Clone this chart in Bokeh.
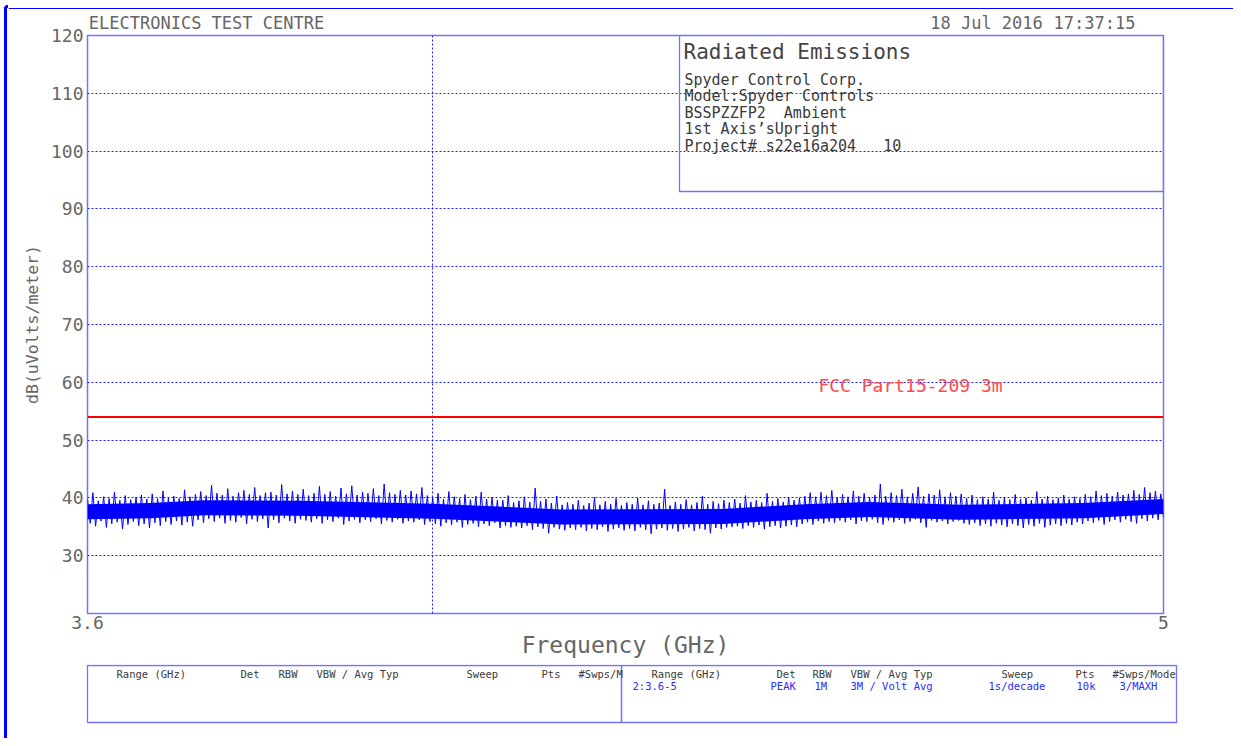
import numpy as np
from bokeh.plotting import figure
from bokeh.layouts import row, column
from bokeh.models import FixedTicker, Label, BoxAnnotation, LinearAxis, Range1d, LinearScale
from bokeh.core.properties import value
from bokeh.embed import file_html
from bokeh.resources import INLINE

# ---------------- data ----------------
freq_start_ghz = 3.6
freq_stop_ghz = 5.0

# max-hold trace: successive local peaks / troughs across the sweep (dBuV/m)
peak_hi = [
    39.8, 40.9, 39.5, 40.2, 39.9, 41.0, 39.6, 40.4, 39.7, 40.1,
    40.5, 39.8, 40.7, 39.9, 41.2, 40.0, 40.3, 39.9, 41.4, 40.2,
    40.6, 41.1, 40.4, 42.2, 40.8, 40.5, 41.6, 40.3, 40.9, 41.3,
    40.6, 41.8, 40.4, 40.9, 41.0, 40.5, 42.3, 40.7, 41.2, 40.6,
    41.5, 40.4, 40.8, 42.0, 40.6, 41.1, 40.3, 41.7, 40.7, 42.1,
    40.5, 41.0, 40.8, 41.6, 40.4, 42.4, 40.9, 40.6, 41.3, 40.5,
    41.2, 40.7, 41.8, 40.4, 40.0, 40.8, 39.8, 41.1, 40.2, 39.9,
    40.6, 39.7, 40.3, 41.0, 39.8, 40.1, 39.6, 39.6, 40.4, 39.2,
    39.5, 40.2, 39.3, 41.7, 39.4, 39.8, 39.1, 40.3, 38.8, 39.2,
    38.9, 39.6, 38.7, 39.1, 40.1, 38.8, 39.4, 38.9, 39.9, 38.7,
    39.2, 38.9, 40.0, 38.8, 39.5, 38.9, 39.1, 41.5, 38.7, 39.3,
    38.9, 39.7, 38.8, 39.2, 40.3, 38.9, 39.4, 39.0, 39.6, 39.2,
    39.8, 39.1, 40.4, 39.3, 39.6, 39.2, 40.8, 39.4, 39.9, 39.3,
    40.1, 39.6, 40.0, 40.3, 40.9, 40.2, 41.0, 40.4, 41.3, 40.1,
    40.6, 40.2, 41.2, 40.3, 40.8, 40.1, 40.5, 42.4, 40.3, 40.9,
    40.4, 41.5, 40.2, 40.8, 41.9, 40.3, 40.7, 40.5, 41.4, 40.2,
    40.9, 40.3, 40.7, 39.9, 40.5, 39.7, 40.2, 39.8, 41.0, 39.6,
    40.1, 39.7, 40.6, 39.8, 40.0, 39.6, 41.1, 39.8, 40.3, 39.7,
    40.0, 40.5, 39.8, 40.2, 39.9, 40.6, 40.2, 41.2, 40.4, 40.8,
    40.3, 41.0, 40.5, 40.7, 41.3, 40.6, 41.8, 40.9, 41.2, 40.7,
]
peak_lo = [
    35.6, 35.1, 36.0, 34.9, 35.5, 35.8, 34.6, 35.4, 35.9, 35.2,
    35.5, 34.8, 35.7, 35.2, 35.9, 35.4, 36.0, 35.3, 35.8, 35.1,
    36.2, 35.7, 36.4, 35.9, 36.5, 35.6, 36.1, 35.8, 36.6, 35.5,
    36.3, 35.9, 36.4, 34.8, 36.2, 35.7, 36.5, 36.0, 35.6, 36.3,
    36.1, 35.8, 36.4, 35.6, 36.2, 35.9, 36.5, 35.4, 36.0, 36.3,
    35.7, 36.2, 35.9, 36.4, 35.5, 36.1, 35.8, 36.3, 35.6, 36.0,
    35.8, 36.2, 35.4, 35.9, 35.5, 35.1, 35.7, 35.3, 35.8, 34.9,
    35.4, 35.6, 35.0, 35.5, 35.2, 35.7, 34.8, 35.2, 34.9, 35.1,
    34.8, 35.2, 34.5, 35.0, 34.7, 33.9, 34.9, 34.6, 34.4, 34.8,
    34.5, 34.9, 34.3, 34.7, 34.5, 35.0, 34.2, 34.6, 34.8, 34.4,
    34.7, 34.3, 34.9, 34.5, 33.8, 34.6, 34.8, 34.4, 34.7, 34.2,
    34.6, 34.9, 34.3, 34.7, 34.5, 33.9, 34.8, 34.6, 34.9, 35.0,
    35.1, 34.7, 35.2, 34.9, 35.3, 34.6, 35.0, 35.2, 34.8, 35.1,
    35.3, 35.0, 35.5, 35.8, 35.4, 36.0, 35.6, 35.9, 35.7, 36.1,
    35.8, 36.2, 35.5, 36.0, 35.9, 36.3, 35.7, 35.4, 36.1, 35.8,
    36.2, 35.6, 35.9, 36.3, 35.7, 34.9, 36.1, 35.8, 36.0, 35.5,
    35.9, 36.1, 35.6, 35.4, 35.7, 35.2, 35.5, 35.1, 35.6, 35.3,
    35.0, 35.5, 35.2, 34.8, 35.4, 35.1, 35.6, 34.9, 35.3, 35.5,
    35.2, 35.6, 35.3, 35.8, 35.5, 36.0, 35.7, 36.1, 35.4, 35.9,
    36.2, 35.8, 36.3, 35.9, 35.6, 36.4, 36.0, 36.5, 36.2, 36.6,
]

# dense core of the trace (where the 10k points overlap solidly)
core_freq = [3.60, 3.67, 3.73, 3.84, 4.00, 4.08, 4.16, 4.37, 4.48, 4.57, 4.70, 4.88, 5.00]
core_hi = [38.9, 39.1, 39.6, 39.5, 39.0, 38.5, 38.0, 38.1, 38.9, 39.3, 38.8, 39.1, 39.8]
core_lo = [36.3, 36.5, 37.0, 36.9, 36.4, 35.9, 35.4, 35.5, 36.3, 36.7, 36.2, 36.5, 37.2]

limit_freq = [3.6, 5.0]
limit_db = [54.0, 54.0]
limit_name = "FCC Part15-209 3m"
limit_label_pos = (4.5, 59.5)

ytick_vals = [30, 40, 50, 60, 70, 80, 90, 100, 110, 120]
ygrid_vals = [30, 40, 50, 60, 70, 80, 90, 100, 110]
xtick_vals = [3.6, 5.0]
xtick_labels = ["3.6", "5"]
xgrid_vals = [4.0]

NB = "\u00a0"
header_texts = ["ELECTRONICS TEST CENTRE", "18 Jul 2016", "17:37:15"]
info_title = "Radiated Emissions"
info_lines = ["Spyder Control Corp.", "Model:Spyder Controls", "BSSPZZFP2 " + NB + "Ambient",
              "1st Axis\u2019sUpright", "Project# s22e16a204 " + NB + NB + "10"]

table_headers_left = ["Range (GHz)", "Det", "RBW", "VBW / Avg Typ", "Sweep", "Pts", "#Swps/M"]
table_headers_right = ["Range (GHz)", "Det", "RBW", "VBW / Avg Typ", "Sweep", "Pts", "#Swps/Mode"]
table_values_right = ["2:3.6-5", "PEAK", "1M", "3M / Volt Avg", "1s/decade", "10k", "3/MAXH"]

# ---------------- layout constants (page pixels) ----------------
PAGE_W, PAGE_H = 1233, 738
STRIP = 8
W = PAGE_W - STRIP
HEAD_H = 9
FL, FT, FR, FB = 87, 33, 1163, 613   # frame edges in page coords
MAIN_BOTTOM = 664
MONO = "DejaVu Sans Mono"
GRAY = "#666666"
FRAME_BLUE = "#7373ff"
BORDER_BLUE = "#0000ff"
header_centers = [206, 986, 1094]     # page x of the centre of each header text


def deco_figure(w, h, x0, y0):
    f = figure(width=w, height=h, x_range=(x0, x0 + w), y_range=(y0 + h, y0),
               output_backend="svg", toolbar_location=None, title=None,
               x_axis_location=None, y_axis_location=None, min_border=0,
               frame_align=False)
    f.outline_line_color = None
    f.background_fill_color = "white"
    f.border_fill_color = "white"
    f.xgrid.visible = False
    f.ygrid.visible = False
    return f


def deco_text(f, txt, x, y_mid, size, color, align="left"):
    f.text(x=[x], y=[y_mid], text=[txt], text_font=value(MONO), text_font_size=value(size),
           text_color=color, text_align=align, text_baseline="middle")


# ---- left strip (outer page border) ----
strip = deco_figure(STRIP, PAGE_H, 0, 0)
strip.line([5, 5], [6, PAGE_H], line_color=BORDER_BLUE, line_width=3)
strip.line([5, STRIP], [6, 6], line_color=BORDER_BLUE, line_width=3)

# ---- top border ----
head = deco_figure(W, HEAD_H, STRIP, 0)
head.line([STRIP, PAGE_W], [6, 6], line_color=BORDER_BLUE, line_width=3)

# ---- main chart ----
trace_db = [v for pair in zip(peak_hi, peak_lo) for v in pair]
trace_freq = np.geomspace(freq_start_ghz, freq_stop_ghz, len(trace_db))

p = figure(width=W, height=MAIN_BOTTOM - HEAD_H, x_axis_type="log",
           x_range=(freq_start_ghz, freq_stop_ghz), y_range=(20, 120),
           output_backend="svg", toolbar_location=None, title=None,
           min_border_left=FL - STRIP, min_border_top=FT - HEAD_H,
           min_border_right=PAGE_W - FR, min_border_bottom=MAIN_BOTTOM - FB,
           frame_align=False)
p.background_fill_color = "white"
p.border_fill_color = "white"
p.outline_line_color = FRAME_BLUE
p.outline_line_width = 1.5

xax = p.below[0]
yax = p.left[0]

p.xgrid.ticker = FixedTicker(ticks=xgrid_vals)
p.ygrid.ticker = FixedTicker(ticks=ygrid_vals)
p.xgrid.grid_line_color = "#2020ff"
p.ygrid.grid_line_color = "#2020ff"
p.xgrid.grid_line_dash = "2 2"
p.ygrid.grid_line_dash = "2 2"
p.xgrid.grid_line_width = 1
p.ygrid.grid_line_width = 1

# header line (instrument name, date, time) shown as labels of a bare top axis
p.extra_x_ranges = {"page": Range1d(FL, FR)}
p.extra_x_scales = {"page": LinearScale()}
hdr_axis = LinearAxis(x_range_name="page", ticker=FixedTicker(ticks=header_centers),
                      major_label_overrides=dict(zip(header_centers, header_texts)))
p.add_layout(hdr_axis, "above")

for ax in (xax, yax, hdr_axis):
    ax.axis_line_color = None
    ax.major_tick_line_color = None
    ax.minor_tick_line_color = None
    ax.major_tick_in = 0
    ax.major_tick_out = 0
    ax.minor_tick_in = 0
    ax.minor_tick_out = 0
    ax.major_label_text_font = MONO
    ax.major_label_text_font_size = "18px"
    ax.major_label_text_color = GRAY
    ax.axis_label_text_font = MONO
    ax.axis_label_text_font_style = "normal"
    ax.axis_label_text_color = GRAY

xax.ticker = FixedTicker(ticks=xtick_vals)
xax.major_label_overrides = dict(zip(xtick_vals, xtick_labels))
yax.ticker = FixedTicker(ticks=ytick_vals)
hdr_axis.major_label_text_font_size = "17px"
hdr_axis.major_label_standoff = 3
yax.major_label_standoff = 4
xax.major_label_standoff = 2
xax.axis_label = "Frequency (GHz)"
xax.axis_label_text_font_size = "23px"
xax.axis_label_standoff = 0
yax.axis_label = "dB(uVolts/meter)"
yax.axis_label_text_font_size = "16.5px"
yax.axis_label_standoff = 6

p.varea(x=core_freq, y1=core_lo, y2=core_hi, fill_color="#0000ff", fill_alpha=1.0)
p.line(trace_freq, trace_db, line_color="#0000ff", line_width=1.0)
p.line(limit_freq, limit_db, line_color="#ff0000", line_width=2.2)
p.add_layout(Label(x=limit_label_pos[0], y=limit_label_pos[1], text=limit_name,
                   text_font=MONO, text_font_size="18px", text_color="#ff4848",
                   text_baseline="middle"))


def frame_label(text, px, py_mid, size, color):
    p.add_layout(Label(x=px - FL, y=FB - py_mid, x_units="screen", y_units="screen",
                       text=text, text_font=MONO, text_font_size=size,
                       text_color=color, text_baseline="middle"))


# info box (inside the frame, top-right)
p.add_layout(BoxAnnotation(left=679 - FL, right=FR - FL, top=FB - FT, bottom=FB - 191,
                           left_units="screen", right_units="screen",
                           top_units="screen", bottom_units="screen",
                           fill_color=None, fill_alpha=0,
                           line_color=FRAME_BLUE, line_alpha=1.0, line_width=1.3))
frame_label(info_title, 683, 51, "21px", "#444444")
for i, line in enumerate(info_lines):
    frame_label(line, 684, 79 + 16.5 * i, "15px", "#3a3a3a")

# ---- bottom table ----
table = deco_figure(W, PAGE_H - MAIN_BOTTOM, STRIP, MAIN_BOTTOM)
table.quad(left=[FL, 621], right=[621, 1176], top=[665, 665], bottom=[722, 722],
           fill_color=None, line_color=FRAME_BLUE, line_width=1.3)
hdr_x_left = [116, 240, 278, 316, 466, 541, 578]
hdr_x_right = [651, 776, 812, 850, 1001, 1075, 1112]
val_x_right = [632, 770, 814, 850, 988, 1076, 1119]
for t, x in zip(table_headers_left, hdr_x_left):
    deco_text(table, t, x, 673, "10.5px", "#3a3a3a")
for t, x in zip(table_headers_right, hdr_x_right):
    deco_text(table, t, x, 673, "10.5px", "#3a3a3a")
for t, x in zip(table_values_right, val_x_right):
    deco_text(table, t, x, 685, "10.5px", "#2a2aff")

layout = row(strip, column(head, p, table))
open("out.html", "w").write(file_html(layout, INLINE))
